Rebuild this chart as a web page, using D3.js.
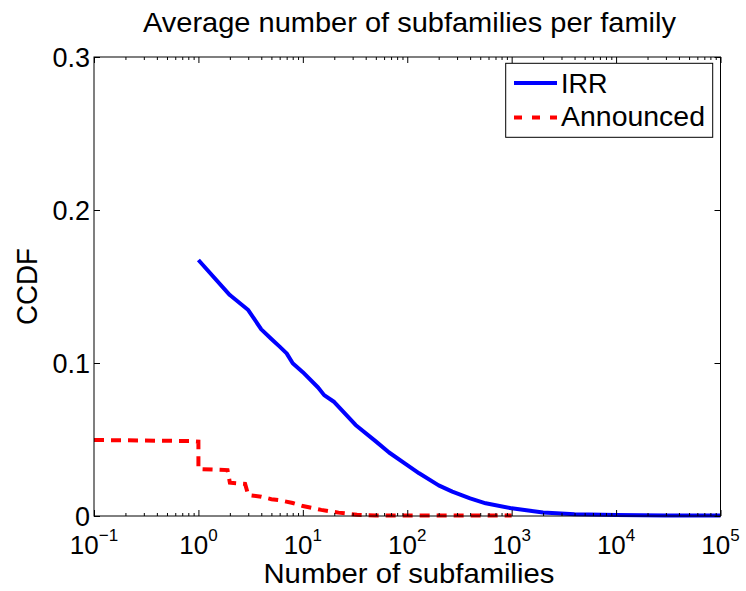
<!DOCTYPE html>
<html>
<head>
<meta charset="utf-8">
<script src="https://cdn.jsdelivr.net/npm/d3@7"></script>
<style>
  html, body { margin: 0; padding: 0; background: #fff; }
  svg { display: block; font-family: "Liberation Sans", Arial, Helvetica, sans-serif; }
</style>
</head>
<body>
<svg id="chart" width="746" height="591"></svg>
<script>
// ---- data ----
const titleText = "Average number of subfamilies per family";
const xLabelText = "Number of subfamilies";
const yLabelText = "CCDF";
const seriesNames = ["IRR", "Announced"];

const irrX = [1, 2, 3, 4, 5, 6, 7, 8, 10, 14, 16, 20, 32, 50, 67, 100, 130, 200, 270, 400, 564, 1000, 2000, 4000, 10000, 30000, 100000];
const irrY = [0.1673, 0.1444, 0.1346, 0.1220, 0.1157, 0.1107, 0.1063, 0.0998, 0.0940, 0.0840, 0.0790, 0.0745, 0.0595, 0.0488, 0.0415, 0.0333, 0.0279, 0.0200, 0.0159, 0.0115, 0.0083, 0.0050, 0.0023, 0.0012, 0.0007, 0.0004, 0.0003];

const annX = [0.1, 0.85, 1, 1, 1.9, 2, 2.8, 3, 4, 5, 6, 8, 10, 15, 22, 33, 50, 1000];
const annY = [0.0497, 0.0490, 0.0486, 0.0307, 0.0300, 0.0218, 0.0210, 0.0137, 0.0126, 0.0110, 0.0103, 0.0085, 0.0065, 0.0040, 0.0022, 0.0008, 0.0004, 0.0003];

const xMajorTicks = [1e-1, 1e0, 1e1, 1e2, 1e3, 1e4, 1e5];
const xTickExps = ["\u22121", "0", "1", "2", "3", "4", "5"];
const yTicks = [0, 0.1, 0.2, 0.3];
const yTickLabels = ["0", "0.1", "0.2", "0.3"];

// ---- layout ----
const svg = d3.select("#chart");
const L = 94, R = 720.5, T = 57, B = 516;

const x = d3.scaleLog().domain([1e-1, 1e5]).range([L, R]);
const y = d3.scaleLinear().domain([0, 0.3]).range([B, T]);

// minor ticks
const xMinor = [];
for (let e = -1; e < 5; e++) for (let k = 2; k <= 9; k++) xMinor.push(k * Math.pow(10, e));

// ---- series ----
const line = d3.line().x(d => x(d[0])).y(d => y(d[1]));

svg.append("path")
  .datum(irrX.map((v, i) => [v, irrY[i]]))
  .attr("d", line)
  .attr("fill", "none")
  .attr("stroke", "#0000ff")
  .attr("stroke-width", 4)
  .attr("stroke-linejoin", "round");

svg.append("path")
  .datum(annX.map((v, i) => [v, annY[i]]))
  .attr("d", line)
  .attr("fill", "none")
  .attr("stroke", "#ff0000")
  .attr("stroke-width", 4)
  .attr("stroke-dasharray", "10,7");

// ---- axes (ticks inward, box) ----
function styleAxis(g) {
  g.select(".domain").remove();
  g.selectAll("line").attr("stroke", "#000").attr("stroke-width", 1);
}
svg.append("g").attr("transform", `translate(0,${B})`)
  .call(d3.axisBottom(x).tickValues(xMajorTicks).tickSize(-6).tickFormat("")).call(styleAxis);
svg.append("g").attr("transform", `translate(0,${B})`)
  .call(d3.axisBottom(x).tickValues(xMinor).tickSize(-3).tickFormat("")).call(styleAxis);
svg.append("g").attr("transform", `translate(0,${T})`)
  .call(d3.axisTop(x).tickValues(xMajorTicks).tickSize(-6).tickFormat("")).call(styleAxis);
svg.append("g").attr("transform", `translate(0,${T})`)
  .call(d3.axisTop(x).tickValues(xMinor).tickSize(-3).tickFormat("")).call(styleAxis);
svg.append("g").attr("transform", `translate(${L},0)`)
  .call(d3.axisLeft(y).tickValues(yTicks).tickSize(-6).tickFormat("")).call(styleAxis);
svg.append("g").attr("transform", `translate(${R},0)`)
  .call(d3.axisRight(y).tickValues(yTicks).tickSize(-6).tickFormat("")).call(styleAxis);

svg.append("rect")
  .attr("x", L).attr("y", T).attr("width", R - L).attr("height", B - T)
  .attr("fill", "none").attr("stroke", "#000").attr("stroke-width", 1);

// tick labels
svg.selectAll("text.ylab").data(yTicks).enter().append("text")
  .attr("class", "ylab")
  .attr("x", L - 4).attr("y", d => y(d) + 10)
  .attr("text-anchor", "end")
  .attr("font-size", 27)
  .text((d, i) => yTickLabels[i]);

const xl = svg.selectAll("text.xlab").data(xMajorTicks).enter().append("text")
  .attr("class", "xlab")
  .attr("x", d => x(d)).attr("y", 553.5)
  .attr("text-anchor", "middle")
  .attr("font-size", 26);
xl.append("tspan").text("10");
xl.append("tspan").attr("dy", -13).attr("font-size", 17).text((d, i) => xTickExps[i]);

// titles
svg.append("text")
  .attr("x", 409.5).attr("y", 32.3)
  .attr("text-anchor", "middle").attr("font-size", 28)
  .attr("textLength", 533).attr("lengthAdjust", "spacingAndGlyphs")
  .text(titleText);

svg.append("text")
  .attr("x", 409).attr("y", 583.3)
  .attr("text-anchor", "middle").attr("font-size", 28)
  .attr("textLength", 291).attr("lengthAdjust", "spacingAndGlyphs")
  .text(xLabelText);

svg.append("text")
  .attr("transform", "translate(37,286.5) rotate(-90)")
  .attr("text-anchor", "middle").attr("font-size", 29)
  .attr("textLength", 77).attr("lengthAdjust", "spacingAndGlyphs")
  .text(yLabelText);

// ---- legend ----
const lg = svg.append("g");
lg.append("rect")
  .attr("x", 505.7).attr("y", 63.3).attr("width", 207).attr("height", 74)
  .attr("fill", "#fff").attr("stroke", "#000").attr("stroke-width", 1);
const legendStyles = [
  { color: "#0000ff", dash: null, ly: 83, ty: 93.3 },
  { color: "#ff0000", dash: "8,10", ly: 117.5, ty: 126 }
];
seriesNames.forEach((name, i) => {
  const s = legendStyles[i];
  const ln = lg.append("line")
    .attr("x1", 514).attr("x2", 557).attr("y1", s.ly).attr("y2", s.ly)
    .attr("stroke", s.color).attr("stroke-width", 4);
  if (s.dash) ln.attr("stroke-dasharray", s.dash);
  const t = lg.append("text")
    .attr("x", 561).attr("y", s.ty).attr("font-size", 27).text(name);
  if (name === "Announced") t.attr("textLength", 144).attr("lengthAdjust", "spacingAndGlyphs");
});
</script>
</body>
</html>
